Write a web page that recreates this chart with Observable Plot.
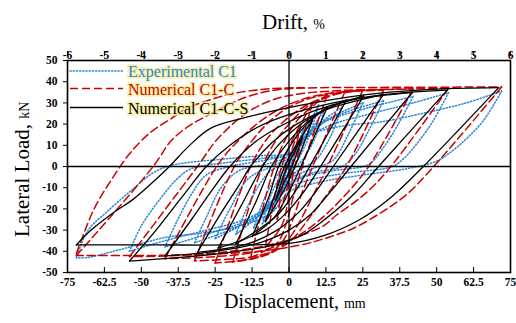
<!DOCTYPE html>
<html><head><meta charset="utf-8">
<script src="https://cdn.jsdelivr.net/npm/d3@7"></script>
<script src="https://cdn.jsdelivr.net/npm/@observablehq/plot@0.6"></script>
<style>
body{margin:0;background:#fff;}
#chart{position:relative;width:516px;height:323px;}
#chart svg, #chart svg text, #chart svg tspan{font-family:"Liberation Serif","Times New Roman","DejaVu Serif",serif !important;}
</style></head><body><div id="chart"></div>
<script>
// ---- tick labels ----
const driftTicks = [-6,-5,-4,-3,-2,-1,0,1,2,3,4,5,6];
const dispTicks = [-75,-62.5,-50,-37.5,-25,-12.5,0,12.5,25,37.5,50,62.5,75];
const loadTicks = [-50,-40,-30,-20,-10,0,10,20,30,40,50];
const seriesNames = ["Experimental C1","Numerical C1-C","Numerical C1-C-S"];
const seriesColors = ["#2a86d4","#cc0000","#000000"];

// ---- Experimental C1 (branches of [displacement mm, load kN]) ----
const expC1 = [
  [[72,35.6],[66,22],[60,13],[54,6],[50,2.5],[40,-1],[25,-4],[10,-7.5],[0,-12],[-6,-22],[-18,-28.5],[-30,-31.5],[-42,-33.5],[-58,-39.5],[-68.6,-43],[-72,-43]],
  [[-72,-43],[-68,-30],[-62,-21.8],[-54,-12],[-46,-3],[-40,0.5],[-23,3.4],[-10,5],[0.5,6.5],[4,12],[10,16.5],[20,19.5],[31,21],[45,25],[60,30],[72,35.6]],
  [[54,34.8],[49,22],[44,12],[39,4],[35,0],[20,-3],[8,-6],[0,-10],[-6,-18],[-15,-25],[-28,-30],[-42,-35],[-54,-40]],
  [[-54,-40],[-50,-28],[-44,-16],[-38,-6],[-33,-1],[-20,2],[-8,4],[0,6],[5,13],[15,20],[28,25],[42,30],[54,34.8]],
  [[42,33],[37,20],[32,9],[27,1],[15,-2],[5,-5],[-1,-10],[-6,-19],[-15,-26],[-28,-32],[-42,-38]],
  [[-42,-38],[-38,-26],[-33,-13],[-28,-4],[-20,0],[-8,3],[0,6],[4,13],[12,21],[25,27],[42,33]],
  [[32,31],[27,17],[22,5],[18,0],[8,-3],[0,-8],[-5,-17],[-12,-25],[-22,-31],[-32,-36]],
  [[-32,-36],[-28,-24],[-23,-10],[-17,-2],[-8,1],[0,5],[4,12],[10,20],[20,26],[32,31]],
  [[25,30],[20,15],[15,3],[8,-1],[0,-6],[-5,-15],[-13,-25],[-25,-34]],
  [[-25,-34],[-20,-20],[-14,-6],[-6,0],[0,4],[5,12],[13,22],[25,30]],
  [[18,28],[14,14],[9,3],[2,-3],[-3,-12],[-10,-23],[-18,-32]],
  [[-18,-32],[-13,-16],[-7,-3],[0,3],[5,12],[11,21],[18,28]],
  [[12,27],[9,14],[5,4],[0,-4],[-5,-15],[-12,-29]],
  [[-12,-29],[-8,-14],[-3,-2],[2,6],[7,16],[12,27]],
  [[10,29],[7,15],[3,3],[-1,-6],[-5,-17],[-9,-27]],
  [[-9,-27],[-6,-13],[-2,-2],[2,8],[6,18],[10,29]],
  [[8,24],[5,11],[2,1],[-2,-9],[-8,-26]],
  [[-8,-26],[-4,-11],[-1,-1],[3,10],[8,24]],
  [[5,18],[3,7],[0,-2],[-5,-20]],
  [[-5,-20],[-2,-6],[1,4],[5,18]],
  [[3,12],[1,2],[-3,-13]],
  [[-3,-13],[-1,-3],[3,12]]
];

// ---- Numerical C1-C ----
const numC1C = [
  [[72,37.5],[49,0],[40,-13],[32,-21],[22,-29],[12,-34],[4,-37],[-10,-40],[-30,-41.5],[-50,-42],[-72,-42]],
  [[-72,-42],[-46,0],[-40,12],[-34,19],[-27.7,24],[-20,29.5],[-14,33],[-5,36],[5,37],[30,37.3],[72,37.5]],
  [[-72,-41],[-66,-20],[-60,-6],[-54,6],[-47,16],[-40,22.5],[-34.5,27.5],[-26,31.8],[-18.7,34.5],[-8,36.5],[5,37.2]],
  [[54,36.8],[34.5,0],[28,-10],[23,-16],[16,-23],[11.7,-28],[4,-32.5],[-5,-36.5],[-20,-40],[-38,-42],[-54,-42.5]],
  [[-54,-42.5],[-31,0],[-24.3,12.8],[-14.2,25.4],[-5,31.7],[5,34.5],[20,36],[54,36.8]],
  [[42,36.5],[27,0],[20,-12],[13,-22],[6,-30],[0,-35],[-10,-40],[-25,-42.5],[-42,-43.5]],
  [[-42,-43.5],[-24.5,0],[-18,11],[-10,21],[-2,28],[8,33],[20,35.5],[42,36.5]],
  [[32,36],[19.5,0],[13,-13],[7,-24],[2,-33],[-3,-38.5],[-12,-42.5],[-32,-44.5]],
  [[-32,-44.5],[-18.5,0],[-12,13],[-6,22],[0,28],[8,32.5],[18,35],[32,36]],
  [[25,36],[13,0],[8,-14],[4,-25],[0,-34],[-5,-40],[-12,-43.5],[-25,-45.5]],
  [[-25,-45.5],[-13,0],[-8,12],[-2,21],[6,29],[14,33.5],[25,36]],
  [[19,35.5],[8,0],[4,-14],[1,-26],[-2,-35],[-7,-41],[-19,-45]],
  [[-19,-45],[-9,0],[-5,11],[0,20],[7,29],[19,35.5]],
  [[13,34],[4.5,0],[1.5,-14],[-1,-27],[-4,-36],[-13,-43]],
  [[-13,-43],[-5,0],[-1.5,12],[3,22],[13,34]],
  [[8,30],[2,0],[0,-14],[-2.5,-28],[-8,-38]],
  [[-8,-38],[-2.5,0],[1,12],[8,30]],
  [[4,20],[1,0],[-0.5,-10],[-4,-25]],
  [[-4,-25],[-1,0],[1,8],[4,20]]
];

// ---- Numerical C1-C-S ----
const numC1CS = [
  [[71,37.2],[45.5,0],[35,-14],[24,-25],[12,-32.5],[0,-36.3],[-20,-37],[-45,-37],[-72,-37]],
  [[-72,-37],[-67,-30],[-59.5,-21.8],[-52.8,-15.5],[-45,-6],[-40.5,0],[-34,9.5],[-26.6,18],[-15,23],[-5,26.3],[10,30.5],[30,34.5],[50,36.5],[71,37.2]],
  [[53.6,36],[30.3,0],[22,-13],[13,-24],[5,-32],[-5,-37],[-20,-40.5],[-38,-43],[-54,-44.6]],
  [[-54,-44.6],[-45,-30],[-36,-14],[-28,0],[-20,10],[-10,19],[0,24.5],[15,30],[33,34],[53.6,36]],
  [[41.7,34.8],[21,0],[14,-12],[7,-23],[0,-30],[-10,-36],[-25,-40],[-42,-42.2]],
  [[-42,-42.2],[-33,-25],[-26,-11],[-20,0],[-12,11],[-3,19],[8,26],[22,31.5],[41.7,34.8]],
  [[32,34],[15,0],[9,-12],[3,-22],[-4,-30],[-14,-36.5],[-31,-40.5]],
  [[-31,-40.5],[-23,-22],[-17,-9],[-13,0],[-6,11],[2,19.5],[12,26.5],[32,34]],
  [[25.3,33.3],[10.7,0],[5,-12],[-1,-22],[-8,-30],[-24,-38.5]],
  [[-24,-38.5],[-16,-18],[-9,0],[-3,11],[5,21],[14,28],[25.3,33.3]],
  [[19.5,31.5],[7,0],[2,-12],[-4,-23],[-18,-36.5]],
  [[-18,-36.5],[-11,-16],[-6,0],[0,12],[8,23],[19.5,31.5]],
  [[13,28],[4,0],[0,-12],[-5,-24],[-12.5,-33]],
  [[-12.5,-33],[-7,-15],[-3.5,0],[1,11],[6,20],[13,28]],
  [[8,22],[2,0],[-2,-12],[-8,-26]],
  [[-8,-26],[-4,-10],[-1.5,0],[2,9],[8,22]],
  [[4.5,14],[1,0],[-1.5,-7],[-4.5,-16]],
  [[-4.5,-16],[-2,-5],[-0.5,0],[1.5,6],[4.5,14]]
];

const toRows = (branches) => branches.flatMap((b, i) => b.map(([x, y]) => ({x, y, id: i})));
const serif = "Liberation Serif";
const tickFont = {fontFamily: serif, fontSize: 11, fontWeight: "bold"};

const plot = Plot.plot({
  width: 516, height: 323,
  marginTop: 60, marginBottom: 51, marginLeft: 67, marginRight: 6,
  style: {background: "white", color: "black", fontFamily: serif},
  x: {domain: [-75, 75]},
  y: {domain: [-50, 50]},
  marks: [
    Plot.line(toRows(expC1), {x: "x", y: "y", z: "id", curve: "catmull-rom", stroke: seriesColors[0], strokeWidth: 1.5, strokeDasharray: "1.2,2", strokeLinecap: "round", clip: true}),
    Plot.line(toRows(numC1C), {x: "x", y: "y", z: "id", curve: "catmull-rom", stroke: seriesColors[1], strokeWidth: 1.5, strokeDasharray: "8,4", clip: true}),
    Plot.line(toRows(numC1CS), {x: "x", y: "y", z: "id", curve: "catmull-rom", stroke: seriesColors[2], strokeWidth: 1.3, clip: true}),
    Plot.ruleY([0], {stroke: "black", strokeWidth: 1.3}),
    Plot.ruleX([0], {stroke: "black", strokeWidth: 1.3}),
    Plot.frame({stroke: "black", strokeWidth: 1.6}),
    Plot.axisY({ticks: loadTicks, tickSize: 4, tickPadding: 6, ...tickFont, label: null, tickFormat: d => String(d)}),
    Plot.axisX({anchor: "bottom", ticks: dispTicks, tickSize: 5, dy: -5, tickFormat: () => "", label: null}),
    Plot.axisX({anchor: "bottom", ticks: dispTicks, tickSize: 0, tickPadding: 5, ...tickFont, label: null, tickFormat: d => String(d)}),
    Plot.axisX({anchor: "top", ticks: driftTicks.map(d => d * 12.5), tickSize: 5, dy: -5, tickFormat: () => "", label: null}),
    Plot.axisX({anchor: "top", ticks: driftTicks.map(d => d * 12.5), tickSize: 0, tickPadding: 2, ...tickFont, label: null, tickFormat: d => String(d / 12.5)})
  ]
});
document.getElementById("chart").appendChild(plot);

// ---- axis titles and legend ----
const svg = d3.select(plot);
svg.selectAll('g[aria-label$="tick label"] text')
  .attr("font-weight", "bold").style("font-weight", "bold").style("font-size", "11.5px");
function title(x, y, big, small, rotate, size) {
  const t = svg.append("text").attr("fill", "black").attr("text-anchor", "start")
    .attr("transform", `translate(${x},${y})` + (rotate ? " rotate(-90)" : ""));
  t.append("tspan").attr("font-size", size).text(big);
  t.append("tspan").attr("font-size", 14).text(small);
}
title(224, 308, "Displacement, ", "mm", false, 20);
title(262, 29, "Drift, ", "%", false, 21);
title(29, 237, "Lateral Load, ", "kN", true, 21);

const legY = [71, 88.5, 107.5];
const legDash = ["1.2,2", "8,4", null];
const legW = [1.5, 1.5, 1.3];
seriesNames.forEach((name, i) => {
  svg.append("line").attr("x1", 70).attr("x2", 123).attr("y1", legY[i]).attr("y2", legY[i])
    .attr("stroke", seriesColors[i]).attr("stroke-width", legW[i])
    .attr("stroke-dasharray", legDash[i]).attr("stroke-linecap", i === 0 ? "round" : "butt");
  svg.append("text").attr("x", 128).attr("y", legY[i] + 6).attr("text-anchor", "start")
    .attr("font-size", 16)
    .attr("fill", seriesColors[i]).attr("stroke", "#f7ef9c").attr("stroke-width", 3.5)
    .attr("stroke-linejoin", "round").attr("paint-order", "stroke").attr("stroke-opacity", 0.8)
    .text(name);
});
</script></body></html>
